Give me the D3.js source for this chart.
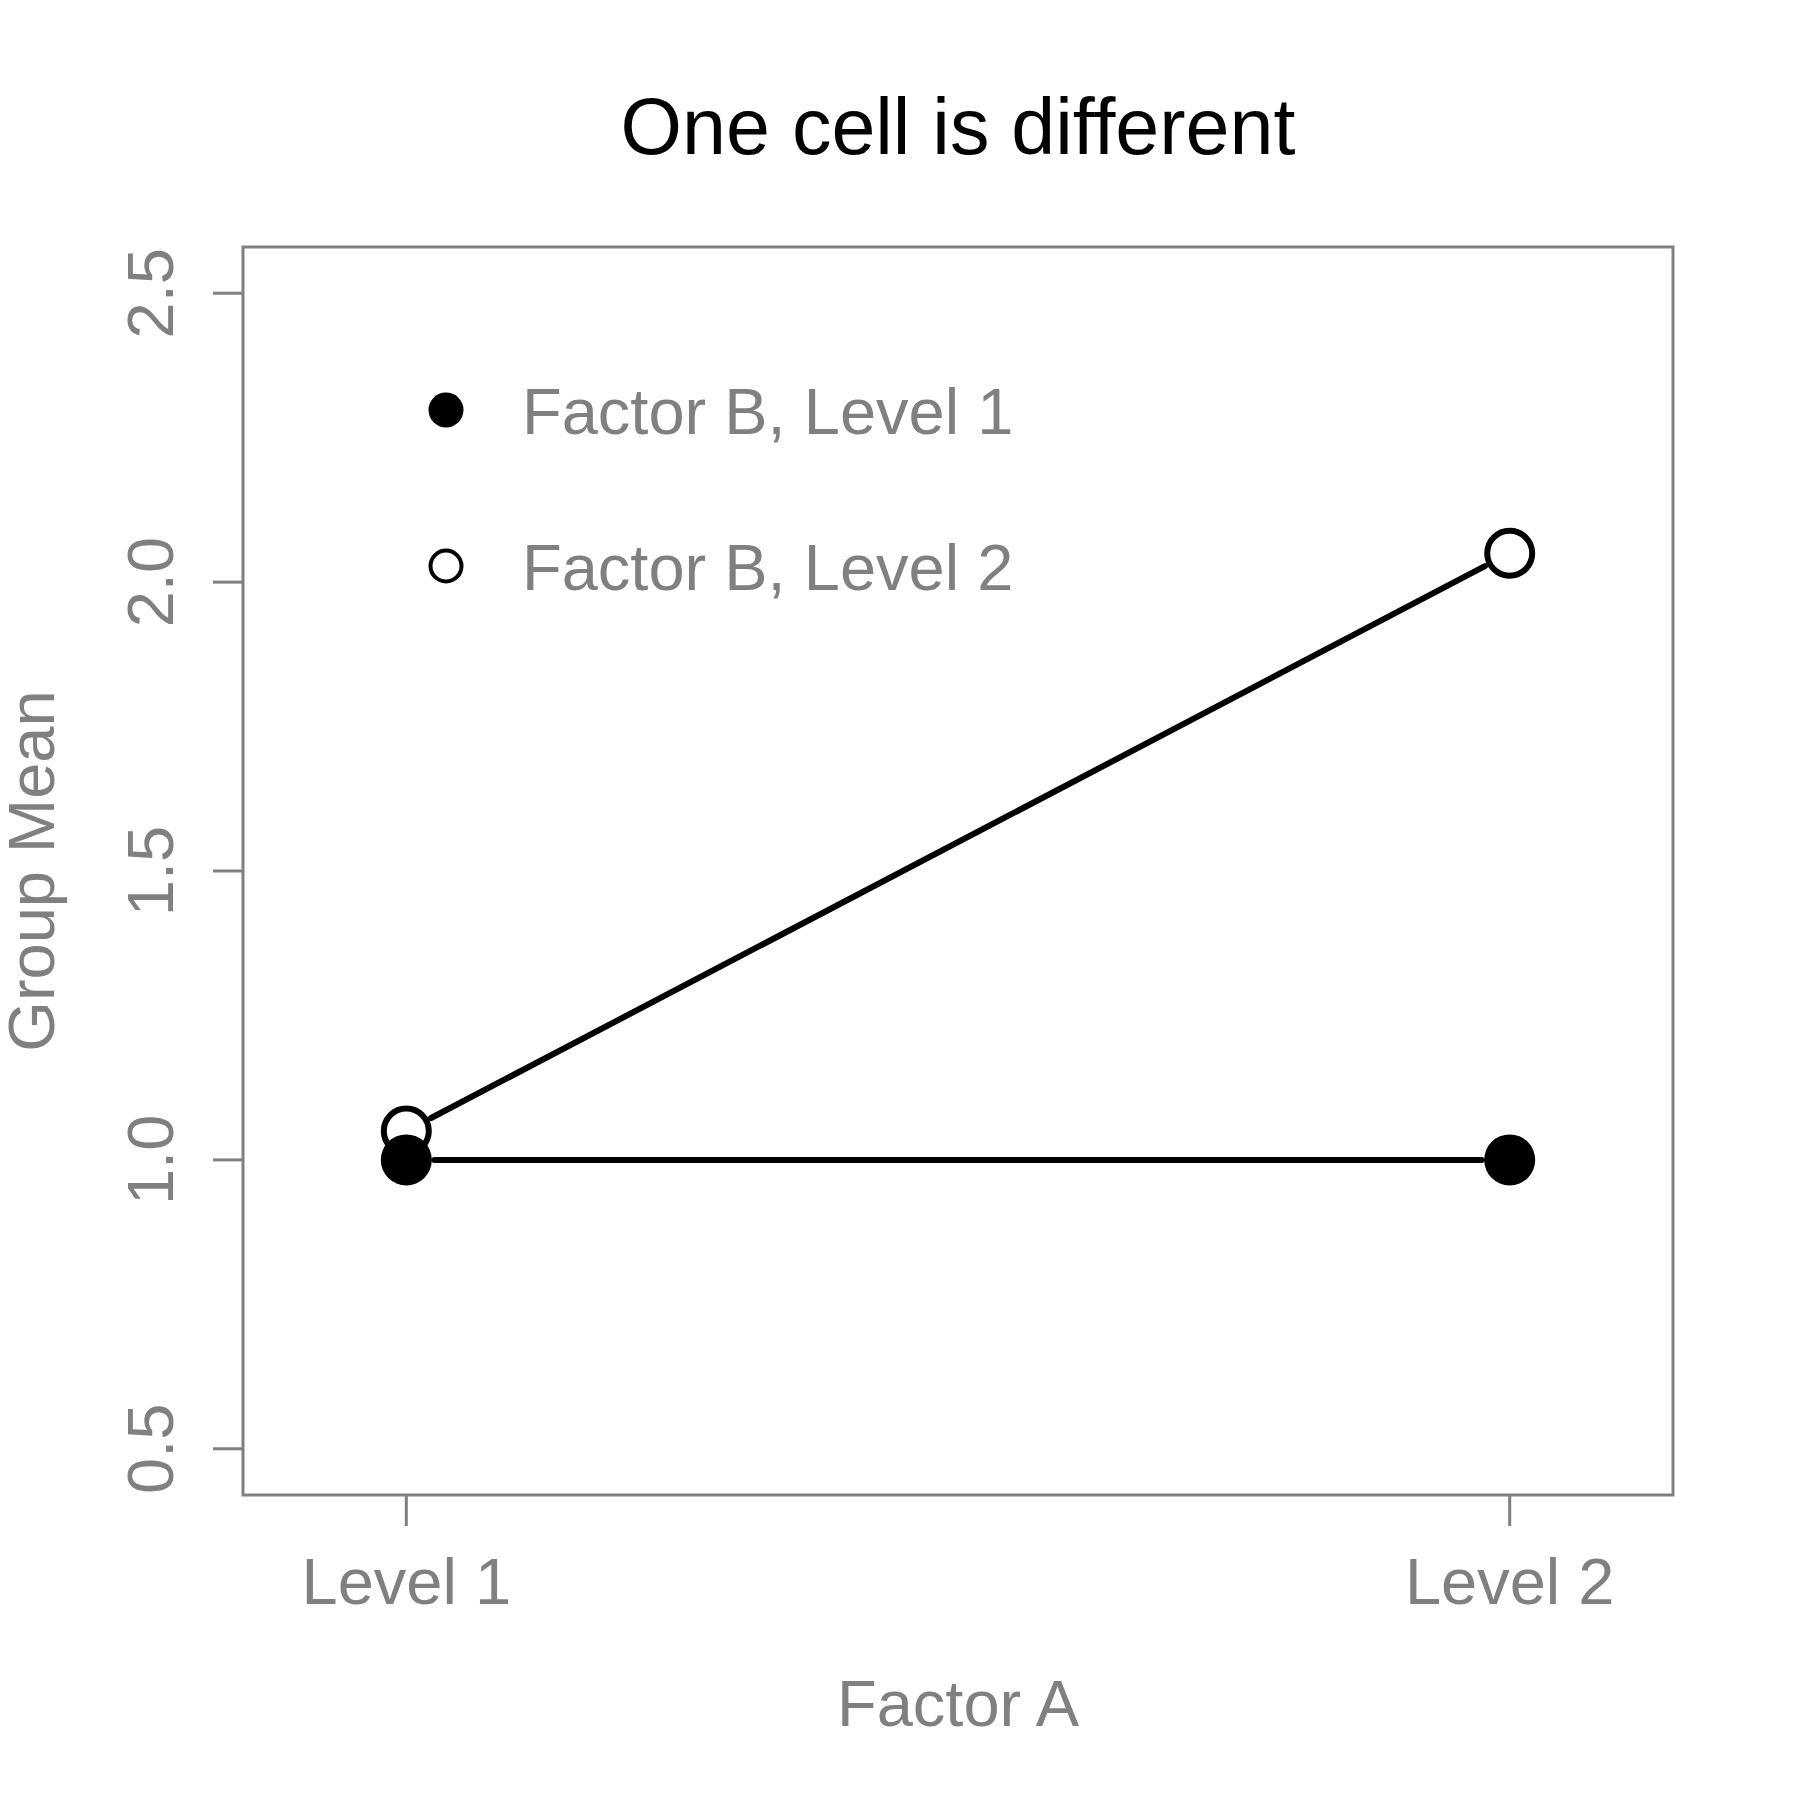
<!DOCTYPE html>
<html>
<head>
<meta charset="utf-8">
<script src="https://cdn.jsdelivr.net/npm/d3@7"></script>
<style>
  html, body { margin: 0; padding: 0; background: #fff; }
  text { font-family: "Liberation Sans", Arial, Helvetica, sans-serif; }
</style>
</head>
<body>
<svg id="chart" width="1801" height="1801"></svg>
<script>
// data
const factorA = ["Level 1", "Level 2"];
const xPos = [1, 2];
const levelB1 = [1.0, 1.0];
const levelB2 = [1.05, 2.05];
const yTicks = [0.5, 1.0, 1.5, 2.0, 2.5];
const seriesNames = ["Factor B, Level 1", "Factor B, Level 2"];

const gray = "#808080";
const fs = 65;

const svg = d3.select("#chart");
const box = {left: 243, top: 247, right: 1673, bottom: 1495};

// R style 4% padding on the limits
function pad(lo, hi) { const d = (hi - lo) * 0.04; return [lo - d, hi + d]; }
const x = d3.scaleLinear().domain(pad(0.9, 2.1)).range([box.left, box.right]);
const y = d3.scaleLinear().domain(pad(0.5, 2.5)).range([box.bottom, box.top]);

svg.append("rect").attr("width", 1801).attr("height", 1801).attr("fill", "#fff");

// title
svg.append("text")
    .attr("x", (box.left + box.right) / 2).attr("y", 154)
    .attr("text-anchor", "middle").attr("font-size", 79).attr("fill", "#000")
    .text("One cell is different");

// frame
svg.append("rect")
    .attr("x", box.left).attr("y", box.top)
    .attr("width", box.right - box.left).attr("height", box.bottom - box.top)
    .attr("fill", "none").attr("stroke", gray).attr("stroke-width", 3);

// y axis
const yAxis = svg.append("g");
yTicks.forEach(t => {
    yAxis.append("line")
        .attr("x1", box.left - 30).attr("x2", box.left)
        .attr("y1", y(t)).attr("y2", y(t))
        .attr("stroke", gray).attr("stroke-width", 3);
    yAxis.append("text")
        .attr("transform", "translate(173," + y(t) + ") rotate(-90)")
        .attr("text-anchor", "middle").attr("font-size", fs).attr("fill", gray)
        .text(d3.format(".1f")(t));
});

// x axis
const xAxis = svg.append("g");
xPos.forEach((p, i) => {
    xAxis.append("line")
        .attr("x1", x(p)).attr("x2", x(p))
        .attr("y1", box.bottom).attr("y2", box.bottom + 31)
        .attr("stroke", gray).attr("stroke-width", 3);
    xAxis.append("text")
        .attr("x", x(p)).attr("y", 1604)
        .attr("text-anchor", "middle").attr("font-size", fs).attr("fill", gray)
        .text(factorA[i]);
});

svg.append("text")
    .attr("x", (box.left + box.right) / 2).attr("y", 1726)
    .attr("text-anchor", "middle").attr("font-size", fs).attr("fill", gray)
    .text("Factor A");

svg.append("text")
    .attr("transform", "translate(54," + ((box.top + box.bottom) / 2) + ") rotate(-90)")
    .attr("text-anchor", "middle").attr("font-size", fs).attr("fill", gray)
    .text("Group Mean");

// lines, type "b": segments stop short of the points
const gap = 28;
const line = d3.line();
function drawSeries(vals) {
    for (let i = 0; i < vals.length - 1; i++) {
        const x0 = x(xPos[i]), y0 = y(vals[i]);
        const x1 = x(xPos[i + 1]), y1 = y(vals[i + 1]);
        const len = Math.hypot(x1 - x0, y1 - y0);
        const ux = (x1 - x0) / len, uy = (y1 - y0) / len;
        svg.append("path")
            .attr("d", line([[x0 + ux * gap, y0 + uy * gap], [x1 - ux * gap, y1 - uy * gap]]))
            .attr("fill", "none").attr("stroke", "#000")
            .attr("stroke-width", 6).attr("stroke-linecap", "round");
    }
}
drawSeries(levelB2);
drawSeries(levelB1);

// points
svg.append("g").selectAll("circle").data(levelB2).join("circle")
    .attr("cx", (d, i) => x(xPos[i])).attr("cy", d => y(d))
    .attr("r", 22.5).attr("fill", "#fff").attr("stroke", "#000").attr("stroke-width", 6);
svg.append("g").selectAll("circle").data(levelB1).join("circle")
    .attr("cx", (d, i) => x(xPos[i])).attr("cy", d => y(d))
    .attr("r", 25.5).attr("fill", "#000");

// legend
const leg = svg.append("g");
const legRows = [410, 566];
seriesNames.forEach((name, i) => {
    if (i === 0) {
        leg.append("circle").attr("cx", 446).attr("cy", legRows[i]).attr("r", 17.5).attr("fill", "#000");
    } else {
        leg.append("circle").attr("cx", 446).attr("cy", legRows[i]).attr("r", 15.5)
            .attr("fill", "#fff").attr("stroke", "#000").attr("stroke-width", 4);
    }
    leg.append("text")
        .attr("x", 522).attr("y", legRows[i] + 24)
        .attr("font-size", fs).attr("fill", gray)
        .text(name);
});
</script>
</body>
</html>
